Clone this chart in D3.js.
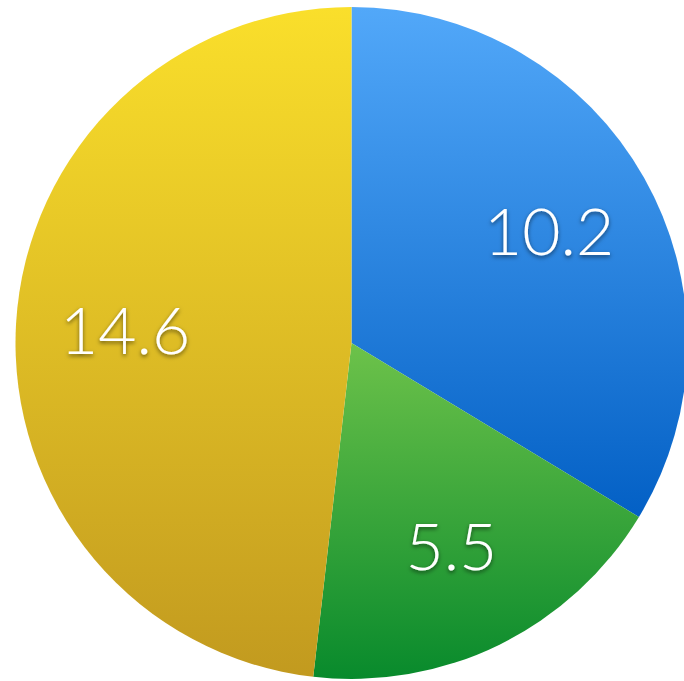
<!DOCTYPE html>
<html>
<head>
<meta charset="utf-8">
<script src="https://cdn.jsdelivr.net/npm/d3@7"></script>
<style>
  body { margin: 0; background: #fff; }
  svg { display: block; }
</style>
</head>
<body>
<script>
// data
var labels = ["A", "B", "C"];
var values = [10.2, 5.5, 14.6];
var topColors = ["#52a8f9", "#6dc24a", "#fadf2b"];
var bottomColors = ["#0360c5", "#088a2c", "#c29a1f"];

var width = 684,
  height = 681,
  cx = 351.5,
  cy = 343,
  radius = 336;

var svg = d3
  .select("body")
  .append("svg")
  .attr("width", width)
  .attr("height", height);

var defs = svg.append("defs");

// vertical gradient for each slice
labels.forEach(function (l, i) {
  var g = defs
    .append("linearGradient")
    .attr("id", "grad" + i)
    .attr("x1", 0)
    .attr("y1", 0)
    .attr("x2", 0)
    .attr("y2", 1);
  g.append("stop").attr("offset", "0%").attr("stop-color", topColors[i]);
  g.append("stop").attr("offset", "100%").attr("stop-color", bottomColors[i]);
});

var shadow = defs
  .append("filter")
  .attr("id", "shadow")
  .attr("x", "-20%")
  .attr("y", "-20%")
  .attr("width", "140%")
  .attr("height", "140%");
shadow
  .append("feDropShadow")
  .attr("dx", 0)
  .attr("dy", 2)
  .attr("stdDeviation", 2)
  .attr("flood-color", "#000")
  .attr("flood-opacity", 0.55);

var pie = d3.pie().sort(null).value(function (d) { return d; });
var arcs = pie(values);

var arc = d3.arc().innerRadius(0).outerRadius(radius);
var labelArc = d3.arc().innerRadius(radius * 0.675).outerRadius(radius * 0.675);

var g = svg.append("g").attr("transform", "translate(" + cx + "," + cy + ")");

g.selectAll("path")
  .data(arcs)
  .enter()
  .append("path")
  .attr("d", arc)
  .attr("fill", function (d, i) { return "url(#grad" + i + ")"; });

g.selectAll("text")
  .data(arcs)
  .enter()
  .append("text")
  .attr("transform", function (d) {
    var c = labelArc.centroid(d);
    return "translate(" + c[0] + "," + c[1] + ")";
  })
  .attr("text-anchor", "middle")
  .attr("dy", "0.36em")
  .attr("fill", "#fff")
  .attr("filter", "url(#shadow)")
  .style("font-family", "'Helvetica Neue', Lato, 'Liberation Sans', sans-serif")
  .style("font-weight", 300)
  .style("font-size", "66px")
  .text(function (d) { return d.data; });
</script>
</body>
</html>
